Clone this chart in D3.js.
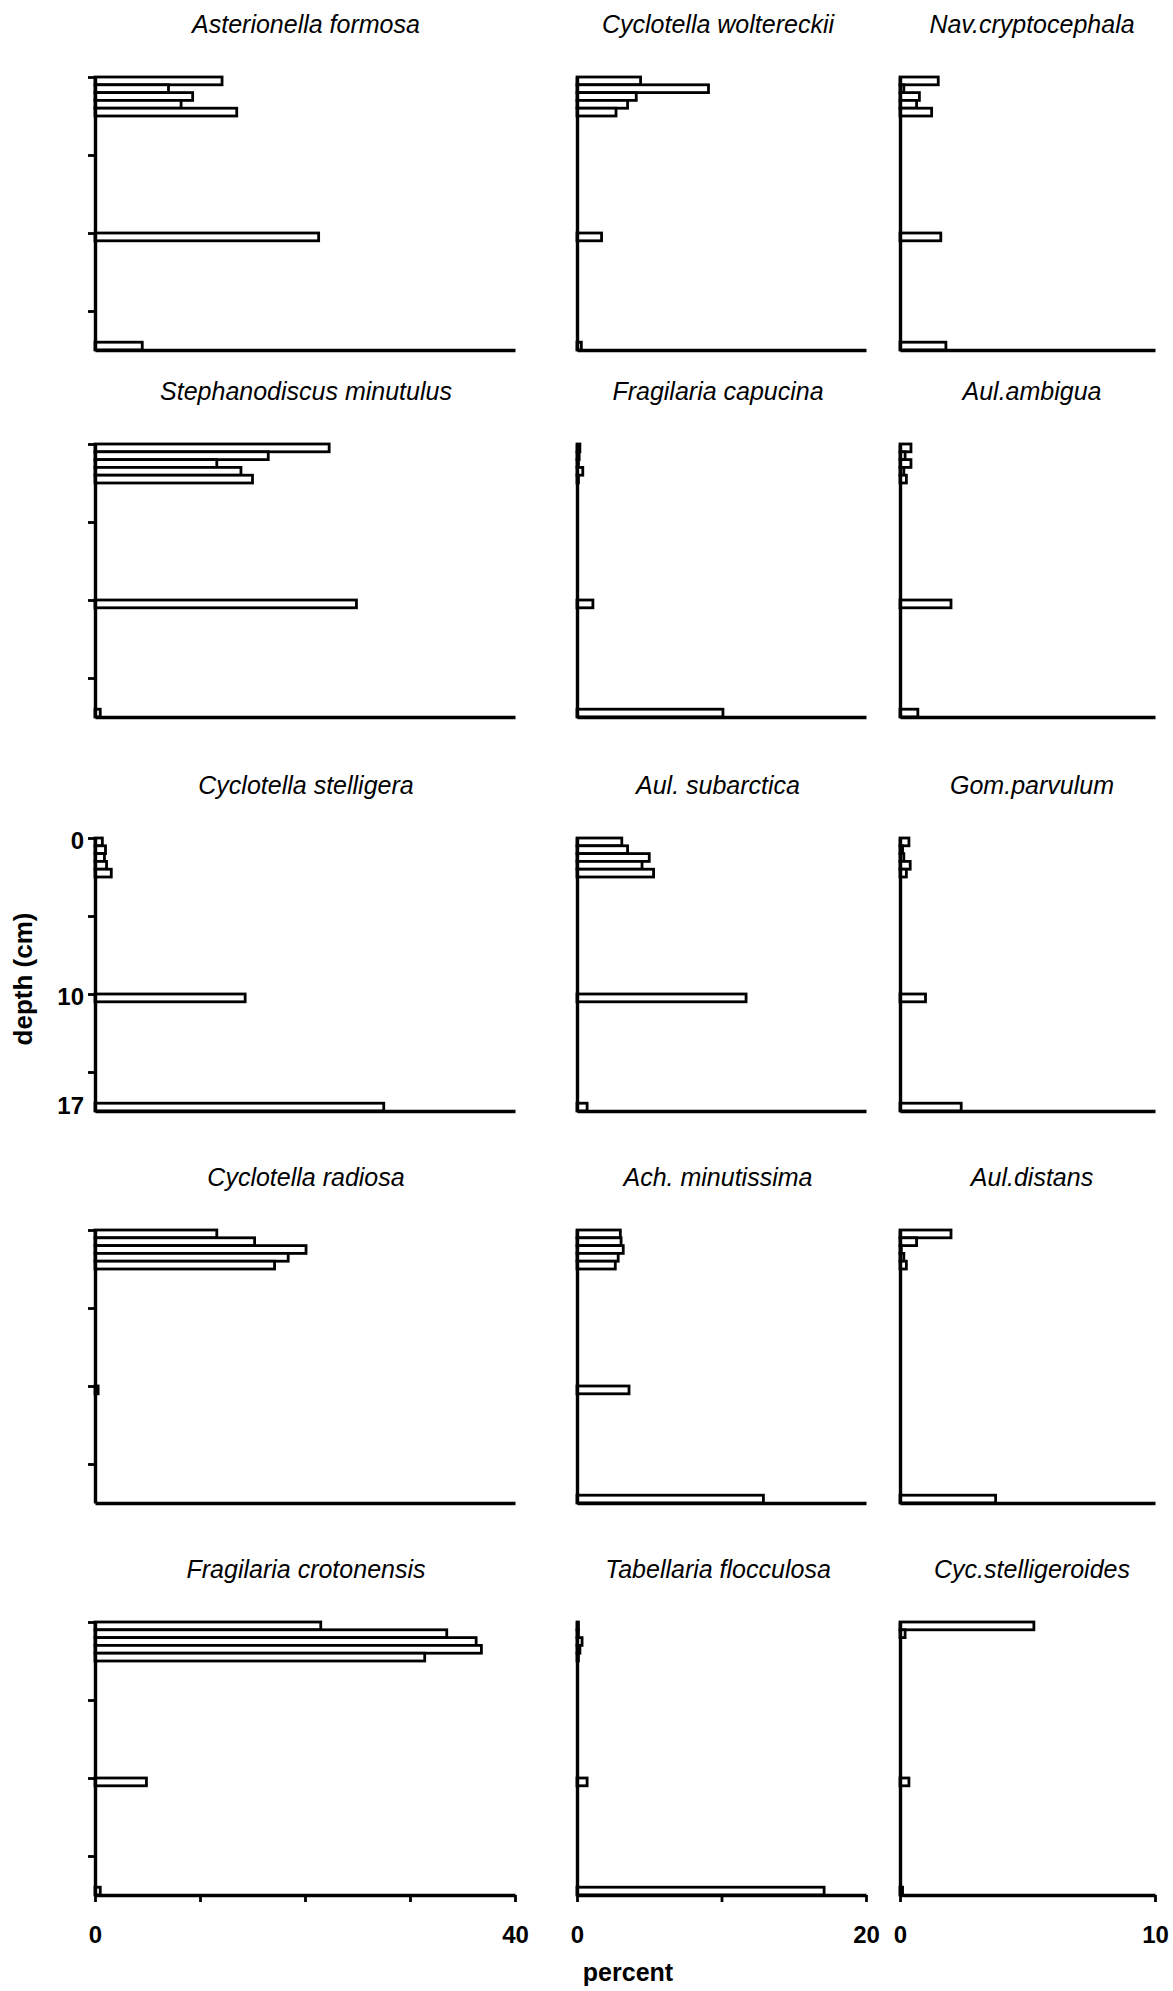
<!DOCTYPE html>
<html>
<head>
<meta charset="utf-8">
<script src="https://cdn.jsdelivr.net/npm/d3@7/dist/d3.min.js"></script>
<style>
  html, body { margin: 0; padding: 0; background: #fff; }
  svg { display: block; }
  text { font-family: "Liberation Sans", Arial, sans-serif; fill: #000; }
</style>
</head>
<body>
<svg id="chart" width="1173" height="1991"></svg>
<script>
// ---- data ----
const depths = [0, 0.5, 1, 1.5, 2, 10, 17];   // sample depth (cm), top of each slice
const sliceThickness = 0.5;                   // cm
const depthMax = 17.5;
const depthTickValues = [0, 5, 10, 15];
const depthLabelValues = [0, 10, 17];
const columnMax = [40, 20, 10];               // percent axis maximum per column
const columnTicks = [[0, 10, 20, 30, 40], [0, 10, 20], [0, 10]];

const taxa = [
  "Asterionella formosa", "Cyclotella woltereckii", "Nav.cryptocephala",
  "Stephanodiscus minutulus", "Fragilaria capucina", "Aul.ambigua",
  "Cyclotella stelligera", "Aul. subarctica", "Gom.parvulum",
  "Cyclotella radiosa", "Ach. minutissima", "Aul.distans",
  "Fragilaria crotonensis", "Tabellaria flocculosa", "Cyc.stelligeroides"
];

const asterionellaFormosa    = [12.1, 7.0, 9.3, 8.2, 13.5, 21.3, 4.5];
const cyclotellaWoltereckii  = [4.4, 9.1, 4.1, 3.5, 2.7, 1.7, 0.3];
const navCryptocephala       = [1.5, 0.15, 0.76, 0.65, 1.24, 1.6, 1.8];
const stephanodiscusMinutulus= [22.3, 16.5, 11.6, 13.9, 15.0, 24.9, 0.5];
const fragilariaCapucina     = [0.2, 0.15, 0.1, 0.4, 0.1, 1.1, 10.1];
const aulAmbigua             = [0.43, 0.2, 0.43, 0.15, 0.25, 2.0, 0.7];
const cyclotellaStelligera   = [0.7, 1.0, 0.9, 1.1, 1.55, 14.3, 27.5];
const aulSubarctica          = [3.1, 3.5, 5.0, 4.5, 5.3, 11.7, 0.7];
const gomParvulum            = [0.35, 0.1, 0.15, 0.4, 0.25, 1.0, 2.4];
const cyclotellaRadiosa      = [11.6, 15.2, 20.1, 18.4, 17.1, 0.3, 0];
const achMinutissima         = [3.0, 3.05, 3.2, 2.85, 2.65, 3.6, 12.9];
const aulDistans             = [2.0, 0.65, 0.05, 0.15, 0.25, 0, 3.75];
const fragilariaCrotonensis  = [21.5, 33.5, 36.3, 36.8, 31.4, 4.9, 0.5];
const tabellariaFlocculosa   = [0.1, 0.1, 0.35, 0.2, 0.1, 0.7, 17.1];
const cycStelligeroides      = [5.25, 0.2, 0, 0, 0, 0.35, 0.1];

const series = [
  asterionellaFormosa, cyclotellaWoltereckii, navCryptocephala,
  stephanodiscusMinutulus, fragilariaCapucina, aulAmbigua,
  cyclotellaStelligera, aulSubarctica, gomParvulum,
  cyclotellaRadiosa, achMinutissima, aulDistans,
  fragilariaCrotonensis, tabellariaFlocculosa, cycStelligeroides
];

// ---- layout ----
const colX = [95, 577, 900];
const colW = [420, 289, 255];
const titleX = [306, 718, 1032];
const rowY = [77, 444, 838, 1230, 1622];
const panelH = 273;

const svg = d3.select("#chart");

taxa.forEach((name, i) => {
  const row = Math.floor(i / 3), col = i % 3;
  const x = d3.scaleLinear().domain([0, columnMax[col]]).range([colX[col], colX[col] + colW[col]]);
  const y = d3.scaleLinear().domain([0, depthMax]).range([rowY[row], rowY[row] + panelH]);
  const g = svg.append("g");

  // title
  g.append("text")
    .attr("x", titleX[col]).attr("y", rowY[row] - 44)
    .attr("text-anchor", "middle")
    .style("font-size", "25px").style("font-style", "italic")
    .text(name);

  // bars
  const data = depths.map((d, k) => ({ d, v: series[i][k] })).filter(e => e.v > 0);
  g.selectAll("rect.bar").data(data).enter().append("rect")
    .attr("class", "bar")
    .attr("x", x(0))
    .attr("y", e => y(e.d))
    .attr("width", e => x(e.v) - x(0))
    .attr("height", e => y(e.d + sliceThickness) - y(e.d))
    .attr("fill", "#fff").attr("stroke", "#000").attr("stroke-width", 2.8);

  // y axis
  const yAxis = d3.axisLeft(y)
    .tickValues(col === 0 ? depthTickValues : [])
    .tickSize(7).tickSizeOuter(0).tickFormat("");
  const ya = g.append("g").attr("transform", `translate(${x(0)},0)`).call(yAxis);
  ya.select(".domain").attr("stroke", "#000").attr("stroke-width", 3.4);
  ya.selectAll(".tick line").attr("stroke", "#000").attr("stroke-width", 2.8);

  if (col === 0 && row === 2) {
    const yLab = d3.axisLeft(y).tickValues(depthLabelValues).tickSize(0).tickPadding(11).tickFormat(d3.format("d"));
    const yl = g.append("g").attr("transform", `translate(${x(0)},3)`).call(yLab);
    yl.select(".domain").remove();
    yl.selectAll("text").style("font-size", "24px").style("font-weight", "bold")
      .style("font-family", "'Liberation Sans', Arial, sans-serif").attr("fill", "#000");
  }

  // x axis
  const last = row === 4;
  const xAxis = d3.axisBottom(x)
    .tickValues(last ? columnTicks[col] : [])
    .tickSize(7).tickSizeOuter(0).tickPadding(24)
    .tickFormat(d => (d === 0 || d === columnMax[col]) ? d : "");
  const xa = g.append("g").attr("transform", `translate(0,${y(depthMax)})`).call(xAxis);
  xa.select(".domain").attr("stroke", "#000").attr("stroke-width", 3.4);
  xa.selectAll(".tick line").attr("stroke", "#000").attr("stroke-width", 2.8);
  xa.selectAll("text").style("font-size", "24px").style("font-weight", "bold")
    .style("font-family", "'Liberation Sans', Arial, sans-serif").attr("fill", "#000");
});

// axis titles
svg.append("text")
  .attr("transform", "translate(32,979) rotate(-90)")
  .attr("text-anchor", "middle")
  .style("font-size", "26px").style("font-weight", "bold")
  .text("depth (cm)");

svg.append("text")
  .attr("x", 628).attr("y", 1981)
  .attr("text-anchor", "middle")
  .style("font-size", "25px").style("font-weight", "bold")
  .text("percent");
</script>
</body>
</html>
